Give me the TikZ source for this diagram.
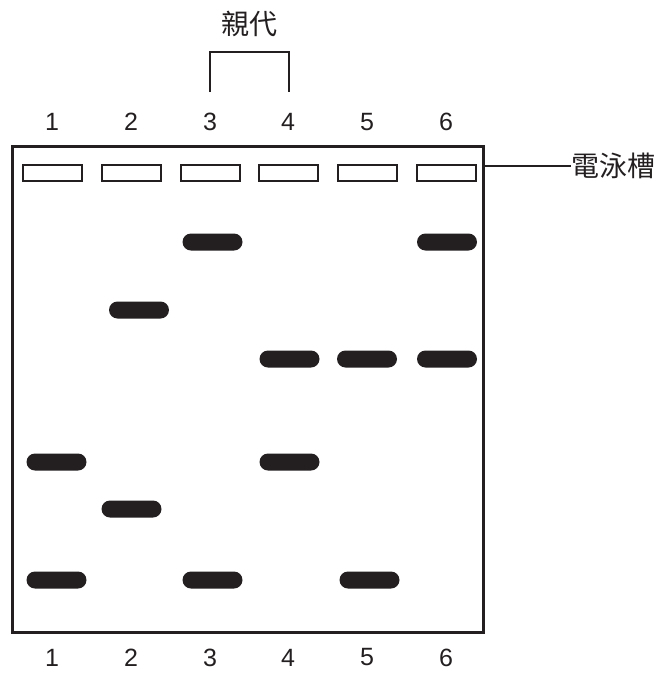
\documentclass[tikz,border=0pt]{standalone}
\usepackage{fontspec}
\setmainfont{Liberation Sans}
\newfontfamily\cjk{Noto Sans CJK TC}
\definecolor{ink}{HTML}{231F20}
\begin{document}
\begin{tikzpicture}[x=1pt,y=-1pt,
  lanelabel/.style={font=\fontsize{25}{25}\selectfont, text=ink, inner sep=0pt},
  cjklabel/.style={font=\cjk\fontsize{28}{28}\selectfont, text=ink, inner sep=0pt},
  well/.style={draw=ink, line width=2pt, minimum width=59pt, minimum height=16pt, inner sep=0pt},
  band/.style={fill=ink, rounded corners=8.5pt, minimum width=60pt, minimum height=17pt, inner sep=0pt},
  gelline/.style={draw=ink, line width=2.5pt}]
\useasboundingbox (0,0) rectangle (660,673);
% gel
\node[gelline, minimum width=471pt, minimum height=486pt, inner sep=0pt] (gel) at (248,389.5) {};
% wells and lane numbers
\foreach \i/\x in {1/52,2/131,3/210,4/288,5/367,6/446}{
  \node[well] (w\i) at (\x,172.5) {};
  \node[lanelabel] (t\i) at (\x,122) {\i};
  \node[lanelabel] (b\i) at (\x,657.5) {\i};
}
% parents bracket
\node[cjklabel] (parent) at (249,24) {親代};
\coordinate (bl) at (210,92);
\coordinate (br) at (289,92);
\draw[gelline] (bl) -- (210,52) -- (289,52) -- (br);
% tank label
\node[cjklabel, anchor=west] (tank) at (571,165.5) {電泳槽};
\coordinate (gelr) at (gel.east |- tank.west);
\draw[draw=ink, line width=2pt] (gelr) -- (tank.west);
% bands
\node[band] (b3a) at (212.5,242) {};
\node[band] (b6a) at (447,242) {};
\node[band] (b2a) at (139,310) {};
\node[band] (b4a) at (289.5,359) {};
\node[band] (b5a) at (367,359) {};
\node[band] (b6b) at (447,359) {};
\node[band] (b1a) at (56.5,462) {};
\node[band] (b4b) at (289.5,462) {};
\node[band] (b2b) at (131.5,509) {};
\node[band] (b1b) at (56.5,580) {};
\node[band] (b3b) at (212.5,580) {};
\node[band] (b5b) at (369.5,580) {};
\end{tikzpicture}
\end{document}
